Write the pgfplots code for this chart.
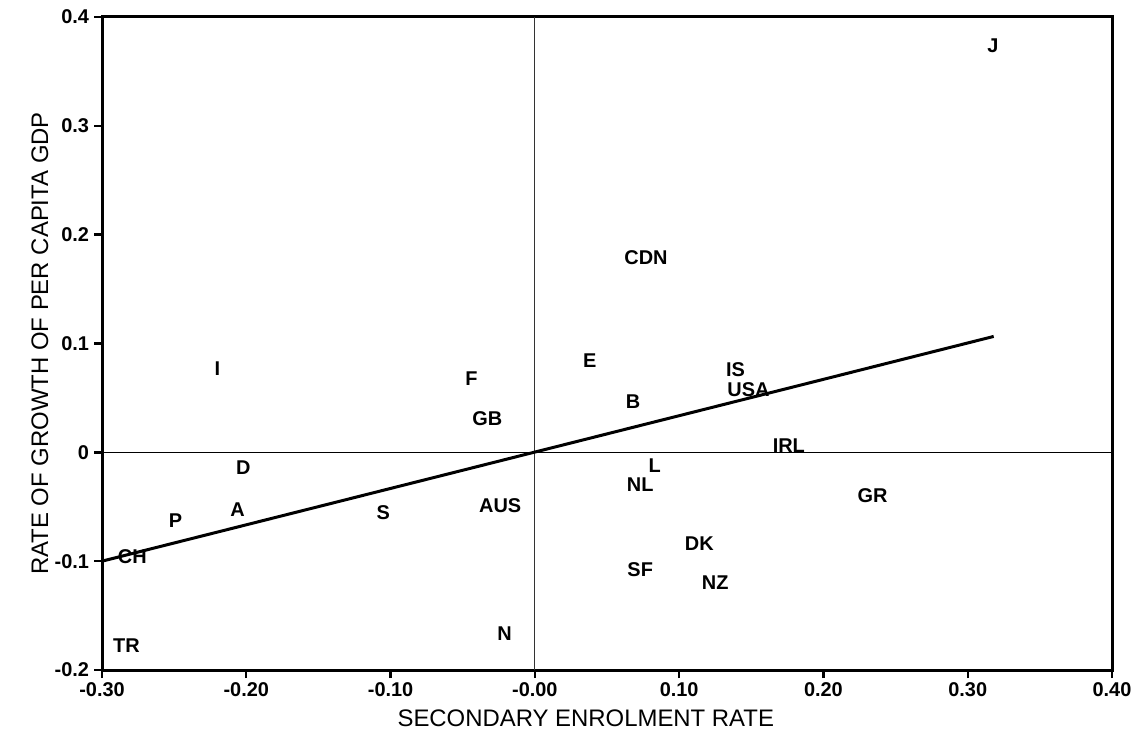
\documentclass[border=0pt]{standalone}
\usepackage{pgfplots}
\pgfplotsset{compat=1.18}
\usepackage{fontspec}
\setmainfont{Liberation Sans}
\pgfplotstableread{
x y label
0.3175 0.374 J
0.077 0.179 CDN
0.139 0.076 IS
0.148 0.058 USA
0.038 0.084 E
0.068 0.047 B
0.176 0.006 IRL
0.083 -0.012 L
0.073 -0.030 NL
0.234 -0.040 GR
0.114 -0.084 DK
0.073 -0.108 SF
0.125 -0.120 NZ
-0.021 -0.167 N
-0.024 -0.049 AUS
-0.033 0.031 GB
-0.044 0.068 F
-0.220 0.077 I
-0.202 -0.014 D
-0.206 -0.053 A
-0.105 -0.055 S
-0.249 -0.063 P
-0.279 -0.096 CH
-0.283 -0.178 TR
}\countries
\begin{document}
\begin{tikzpicture}
\begin{axis}[
  scale only axis,
  width=505bp, height=326.5bp,
  xmin=-0.3, xmax=0.4, ymin=-0.2, ymax=0.4,
  axis line style={line width=1.5bp},
  xtick={-0.3,-0.2,-0.1,0,0.1,0.2,0.3,0.4},
  xticklabels={-0.30,-0.20,-0.10,-0.00,0.10,0.20,0.30,0.40},
  ytick={-0.2,-0.1,0,0.1,0.2,0.3,0.4},
  yticklabels={-0.2,-0.1,0,0.1,0.2,0.3,0.4},
  xtick pos=lower, ytick pos=left,
  tick align=outside,
  major tick length=4bp,
  tick style={line width=1.2bp, black},
  ticklabel style={font=\bfseries\fontsize{10}{11}\selectfont},
  xticklabel style={yshift=1bp},
  yticklabel style={xshift=1bp},
  xlabel={SECONDARY ENROLMENT RATE},
  ylabel={RATE OF GROWTH OF PER CAPITA GDP},
  label style={font=\fontsize{12}{14}\selectfont},
  xlabel style={at={(axis description cs:0.479,-0.0735)}, anchor=center},
  ylabel style={at={(axis description cs:-0.0614,0.5)}, anchor=center},
  clip=false,
]
\addplot[line width=0.5bp, black] coordinates {(-0.3,0) (0.4,0)};
\addplot[line width=0.6bp, black!80] coordinates {(0,-0.2) (0,0.4)};
\addplot[line width=1.5bp, black] coordinates {(-0.30,-0.100) (0.318,0.1065)};
\addplot[only marks, mark=none, nodes near coords, point meta=explicit symbolic,
  every node near coord/.append style={anchor=center, font=\bfseries\fontsize{10}{12}\selectfont, inner sep=0pt}]
  table[x=x, y=y, meta=label] {\countries};
\end{axis}
\pgfresetboundingbox
\path ([shift={(-51bp,-32.5bp)}]current axis.south west) rectangle ([shift={(13.5bp,8.5bp)}]current axis.north east);
\end{tikzpicture}
\end{document}
